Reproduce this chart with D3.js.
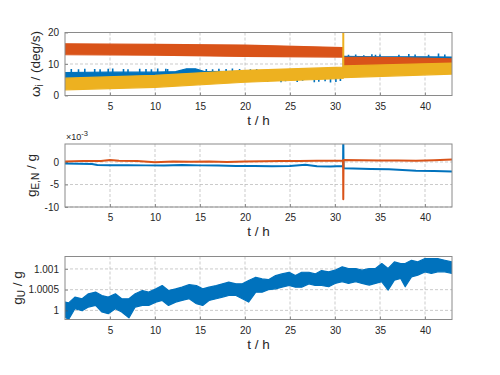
<!DOCTYPE html>
<html>
<head>
<meta charset="utf-8">
<script src="https://cdn.jsdelivr.net/npm/d3@7"></script>
<style>
  body { margin: 0; background: #fff; }
  svg { font-family: "Liberation Sans", Arial, Helvetica, sans-serif; }
</style>
</head>
<body>
<svg id="chart" width="500" height="375"></svg>
<script>
// shared time axis
const tDomain = [0, 43];
const tTicks = [5, 10, 15, 20, 25, 30, 35, 40];

// ---- panel 1 : omega_i (deg/s), bands ----
const omegaTicks = [0, 10, 20];
const blueT  = [0, 5, 10, 12.3, 13.5, 14.5, 15.5, 20, 22.5, 26, 30.9, 30.95, 35, 40, 43];
const blueLo = [5.2, 5.3, 5.4, 5.6, 5.8, 6.0, 5.8, 5.8, 5.6, 5.6, 5.8, 10.0, 10.2, 10.4, 10.5];
const blueHi = [7.3, 7.4, 7.4, 7.6, 8.5, 8.5, 7.6, 7.7, 7.8, 7.4, 7.2, 12.4, 12.3, 12.3, 12.2];
const blueSpikeT = [0.7, 1.5, 2.2, 3.3, 3.9, 4.8, 5.3, 6.5, 7.0, 8.3, 9.0, 9.6, 10.3, 11.2, 11.4,
  15.7, 16.4, 17.1, 17.9, 18.6, 19.4, 20.6, 21.3,
  22.5, 23.2, 24.0, 24.5, 25.8, 26.4, 27.7, 28.2, 28.9, 29.5, 30.1, 30.6,
  31.5, 32.3, 33.2, 34.1, 34.5, 35.0, 37.1, 38.2, 38.9, 40.4, 41.5, 42.2];
const blueSpikeV = [8.4, 8.3, 8.5, 8.4, 8.3, 8.5, 8.6, 8.4, 8.3, 8.5, 8.4, 8.3, 8.6, 8.5, 8.4,
  8.4, 8.3, 8.5, 8.4, 8.6, 8.4, 8.3, 8.4,
  4.3, 4.6, 4.2, 4.5, 4.3, 4.7, 4.2, 4.4, 4.5, 4.1, 4.3, 4.6,
  12.9, 13.0, 12.8, 13.1, 12.9, 13.0, 12.9, 13.2, 13.0, 12.9, 13.3, 13.0];
const orangeT  = [0, 10, 20, 30.9, 30.95, 37, 43];
const orangeLo = [13.0, 12.8, 12.4, 12.2, 9.3, 9.5, 9.9];
const orangeHi = [16.4, 16.2, 16.0, 15.2, 12.2, 12.0, 11.6];
const yellowT  = [0, 10, 20, 30.9, 30.95, 43];
const yellowLo = [1.8, 2.6, 4.2, 5.4, 5.7, 6.8];
const yellowHi = [5.5, 6.4, 8.0, 9.0, 9.4, 10.3];
const yellowSpike = { t: 30.92, v: 21 };

// ---- panel 2 : g_E,N / g  (x 1e-3) ----
const gTicks = [-10, -5, 0];
const gBlueT = [0, 1.5, 3, 3.6, 5, 7, 9, 11, 13, 15, 17, 19, 21, 23, 25, 26.7, 28, 29.5, 30.9, 30.92, 30.95,
  32, 34, 36, 37.5, 39, 41, 43];
const gBlueV = [-0.35, -0.4, -0.45, -0.65, -0.7, -0.7, -0.75, -0.8, -0.65, -0.75, -0.8, -0.9, -0.9, -0.95,
  -0.9, -0.6, -0.95, -1.0, -0.9, 6, -1.4, -1.45, -1.55, -1.6, -1.8, -1.95, -2.0, -2.1];
const gOrangeT = [0, 2, 4, 5, 6, 8, 10, 12, 14, 16, 18, 20, 22, 24, 26, 28, 30.9, 30.92, 30.95,
  33, 35, 37, 39, 41, 43];
const gOrangeV = [0.1, 0.25, 0.2, 0.45, 0.3, 0.2, -0.05, 0.1, 0.05, 0.1, 0.0, 0.1, 0.15, 0.2, 0.2, 0.3,
  0.35, -8.3, 0.45, 0.4, 0.35, 0.35, 0.3, 0.4, 0.55];

// ---- panel 3 : g_U / g, band in units of 1e-4 above 1 ----
const guTicks = [1, 1.0005, 1.001];
const guTickLabels = ["1", "1.0005", "1.001"];
const guT = [0, 0.4, 1.1, 1.9, 2.6, 3.4, 4.1, 4.8, 5.6, 6.3, 7.1, 7.8, 8.6, 9.3, 10.1, 10.8, 11.5, 12.3,
  13.0, 13.8, 14.6, 15.3, 16.0, 16.8, 17.5, 18.2, 19.0, 19.7, 20.4, 21.2, 21.9, 22.6, 23.4, 24.1, 24.9,
  25.6, 26.3, 27.1, 27.8, 28.5, 29.3, 30.0, 30.8, 31.5, 32.3, 33.0, 33.8, 34.5, 35.2, 35.9, 36.6, 37.3,
  37.8, 38.5, 39.2, 40.0, 40.7, 41.4, 42.2, 43.0];
const guHi = [2.0, 1.8, 3.2, 2.8, 4.0, 4.4, 3.6, 3.2, 4.0, 2.8, 2.8, 4.0, 4.8, 4.4, 5.2, 6.0, 4.8, 5.2,
  5.6, 6.2, 6.0, 5.2, 5.6, 6.0, 6.4, 6.8, 6.4, 6.4, 7.2, 8.0, 7.6, 7.4, 8.4, 8.8, 9.2,
  8.4, 9.2, 9.2, 8.8, 9.6, 9.3, 9.7, 10.5, 10.1, 10.1, 9.7, 10.1, 10.1, 11.3, 10.1, 11.7, 11.3,
  11.3, 12.1, 11.7, 12.5, 12.5, 12.5, 12.1, 11.7];
const guLo = [-1.6, -2.2, 0.4, -0.1, 0.8, 1.2, -0.4, -0.8, 0.4, -0.4, -1.8, 0.8, 1.2, 1.2, 2.0, 2.4, 1.2, 2.0,
  2.4, 2.8, 1.6, 1.2, 2.4, 2.8, 3.2, 3.6, 3.6, 2.8, 2.0, 4.4, 4.4, 5.0, 5.2, 5.6, 6.0,
  5.6, 5.6, 6.4, 6.0, 6.0, 5.7, 6.5, 6.9, 6.5, 6.9, 6.5, 6.1, 6.5, 6.9, 4.9, 7.3, 7.7,
  5.7, 8.1, 8.5, 9.3, 8.9, 9.3, 9.3, 8.9];

const COL = { blue: "#0072BD", orange: "#D95319", yellow: "#EDB120", axis: "#262626" };
const LEFT = 65, RIGHT = 452;

const svg = d3.select("#chart");
const x = d3.scaleLinear().domain(tDomain).range([LEFT, RIGHT]);

let clipCount = 0;
function makePanel(top, bottom, yDomain, ticks, tickLabels) {
  const y = d3.scaleLinear().domain(yDomain).range([bottom, top]);
  const g = svg.append("g");
  const id = "clip" + (clipCount++);
  svg.append("clipPath").attr("id", id)
    .append("rect").attr("x", LEFT).attr("y", top).attr("width", RIGHT - LEFT).attr("height", bottom - top);

  // grid
  g.selectAll("line.vgrid").data(tTicks).enter().append("line")
    .attr("x1", d => x(d)).attr("x2", d => x(d)).attr("y1", top).attr("y2", bottom)
    .attr("stroke", "#b5b5b5").attr("stroke-width", 0.7).attr("stroke-dasharray", "3,2");
  g.selectAll("line.hgrid").data(ticks).enter().append("line")
    .attr("x1", LEFT).attr("x2", RIGHT).attr("y1", d => y(d)).attr("y2", d => y(d))
    .attr("stroke", "#b5b5b5").attr("stroke-width", 0.7).attr("stroke-dasharray", "3,2");

  const plot = g.append("g").attr("clip-path", `url(#${id})`);

  // frame + inward ticks
  const frame = g.append("g");
  const xa = d3.axisBottom(x).tickValues(tTicks).tickSizeInner(-3).tickSizeOuter(0).tickPadding(7);
  const ya = d3.axisLeft(y).tickValues(ticks).tickSizeInner(-3).tickSizeOuter(0).tickPadding(6)
    .tickFormat((d, i) => tickLabels ? tickLabels[i] : d);
  frame.append("g").attr("transform", `translate(0,${bottom})`).call(xa);
  frame.append("g").attr("transform", `translate(${LEFT},0)`).call(ya);
  frame.selectAll(".domain").remove();
  frame.selectAll(".tick line").attr("stroke", "#555").attr("stroke-width", 0.6);
  frame.selectAll(".tick text").attr("fill", COL.axis).style("font-size", "10px")
    .style("font-family", "'Liberation Sans', Arial, sans-serif");
  frame.append("rect").attr("x", LEFT).attr("y", top).attr("width", RIGHT - LEFT).attr("height", bottom - top)
    .attr("fill", "none").attr("stroke", "#8a8a8a").attr("stroke-width", 1);

  // x label
  const xl = g.append("text").attr("x", (LEFT + RIGHT) / 2).attr("y", bottom + 29)
    .attr("text-anchor", "middle").attr("fill", COL.axis).style("font-size", "13.5px");
  xl.append("tspan").text("t / h");

  return { y, plot, g, top, bottom };
}

function band(p, T, lo, hi, color) {
  const area = d3.area().x((d, i) => x(T[i])).y0((d, i) => p.y(lo[i])).y1((d, i) => p.y(hi[i]));
  p.plot.append("path").datum(T).attr("d", area).attr("fill", color)
    .attr("stroke", color).attr("stroke-width", 1.2).attr("stroke-linejoin", "round");
}

function line(p, T, V, color, w) {
  const ln = d3.line().x((d, i) => x(T[i])).y((d, i) => p.y(V[i]));
  p.plot.append("path").datum(T).attr("d", ln).attr("fill", "none")
    .attr("stroke", color).attr("stroke-width", w).attr("stroke-linejoin", "round");
}

function yLabel(p, xPos, parts) {
  const cy = (p.top + p.bottom) / 2;
  const t = p.g.append("text").attr("transform", `translate(${xPos},${cy}) rotate(-90)`)
    .attr("text-anchor", "middle").attr("fill", COL.axis).style("font-size", "13.5px");
  parts.forEach(([s, sub]) => {
    const ts = t.append("tspan").text(s);
    if (sub) ts.attr("baseline-shift", "-30%").style("font-size", "10px");
  });
}

// ---- panel 1 ----
const p1 = makePanel(32.5, 95.5, [0, 20], omegaTicks);
band(p1, blueT, blueLo, blueHi, COL.blue);
p1.plot.selectAll("line.spike").data(blueSpikeT).enter().append("line")
  .attr("x1", d => x(d)).attr("x2", d => x(d))
  .attr("y1", (d, i) => p1.y(blueSpikeV[i] > 10 ? 11 : 6.5))
  .attr("y2", (d, i) => p1.y(blueSpikeV[i]))
  .attr("stroke", COL.blue).attr("stroke-width", 1.6);
band(p1, orangeT, orangeLo, orangeHi, COL.orange);
band(p1, yellowT, yellowLo, yellowHi, COL.yellow);
p1.plot.append("line")
  .attr("x1", x(yellowSpike.t)).attr("x2", x(yellowSpike.t))
  .attr("y1", p1.y(7.5)).attr("y2", p1.y(yellowSpike.v))
  .attr("stroke", COL.yellow).attr("stroke-width", 2);
yLabel(p1, 40, [["\u03c9"], ["i", true], [" / (deg/s)"]]);

// ---- panel 2 ----
const p2 = makePanel(144, 207, [-10, 4], gTicks);
line(p2, gBlueT, gBlueV, COL.blue, 2);
line(p2, gOrangeT, gOrangeV, COL.orange, 2);
yLabel(p2, 36, [["g"], ["E,N", true], [" / g"]]);
const ex = p2.g.append("text").attr("x", LEFT + 1).attr("y", 140).attr("fill", COL.axis)
  .style("font-size", "9px");
ex.append("tspan").text("\u00d710");
ex.append("tspan").attr("baseline-shift", "super").style("font-size", "7.5px").text("-3");

// ---- panel 3 ----
const p3 = makePanel(256.5, 319.5, [0.99978, 1.0013], guTicks, guTickLabels);
band(p3, guT, guLo.map(v => 1 + v * 1e-4), guHi.map(v => 1 + v * 1e-4), COL.blue);
yLabel(p3, 22, [["g"], ["U", true], [" / g"]]);
</script>
</body>
</html>
